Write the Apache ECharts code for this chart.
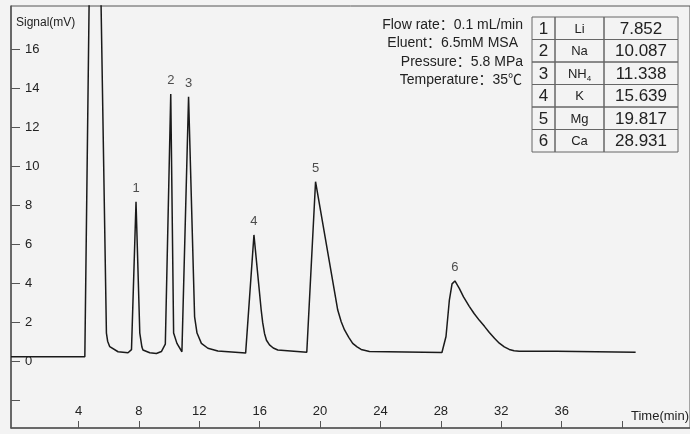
<!DOCTYPE html>
<html>
<head>
<meta charset="utf-8">
<title>Chromatogram</title>
<script src="https://cdn.jsdelivr.net/npm/echarts@6/dist/echarts.min.js"></script>
<style>
  html, body { margin: 0; padding: 0; background: #f3f3f3; }
  #chart { width: 690px; height: 434px; }
</style>
</head>
<body>
<div id="chart"></div>
<script>
// chromatogram trace (min, mV)
const timeMin = [-0.47, 4.42, 5.04, 5.85, 5.93, 6.07, 6.62, 7.28, 7.51, 7.81, 8.06, 8.2, 8.27, 8.72, 9.16, 9.49, 9.75,
  10.11, 10.3, 10.52, 10.85, 11.29, 11.69, 11.85, 12.14, 12.57, 13.23, 15.07, 15.62, 16.1, 16.2, 16.32, 16.45, 16.65,
  16.9, 17.2, 19.12, 19.7, 21.17, 21.4, 21.62, 21.9, 22.16, 22.45, 22.72, 23.27, 28.07, 28.34, 28.56, 28.74, 28.93,
  29.22, 29.5, 29.88, 30.2, 30.55, 30.9, 31.21, 31.55, 31.87, 32.2, 32.53, 32.85, 33.19, 35.68, 35.7, 40.9];
const signalMv = [0.26, 0.26, 39.9, 1.47, 1.05, 0.77, 0.51, 0.46, 0.62, 8.2, 1.47, 0.75, 0.6, 0.46, 0.42, 0.52, 0.9,
  13.73, 1.47, 0.94, 0.51, 13.59, 2.3, 1.47, 0.94, 0.69, 0.55, 0.44, 6.5, 2.65, 2.0, 1.45, 1.1, 0.86,
  0.7, 0.6, 0.48, 9.23, 2.65, 2.05, 1.63, 1.25, 0.94, 0.76, 0.63, 0.52, 0.47, 1.29, 3.14, 3.99, 4.14,
  3.76, 3.32, 2.84, 2.47, 2.12, 1.8, 1.5, 1.2, 0.95, 0.76, 0.63, 0.56, 0.53, 0.53, 0.48, 0.48];

// peak table
const peakNo = ['1', '2', '3', '4', '5', '6'];
const peakIon = ['Li', 'Na', 'NH{sub|4}', 'K', 'Mg', 'Ca'];
const peakRt = ['7.852', '10.087', '11.338', '15.639', '19.817', '28.931'];
const peakTopTime = [7.81, 10.11, 11.29, 15.62, 19.7, 28.93];
const peakTopMv = [8.2, 13.73, 13.59, 6.5, 9.23, 4.14];

// axis ticks
const xTicks = [4, 8, 12, 16, 20, 24, 28, 32, 36, 40];
const xLabels = [4, 8, 12, 16, 20, 24, 28, 32, 36];
const yTicks = [-2, 0, 2, 4, 6, 8, 10, 12, 14, 16];
const yLabels = [0, 2, 4, 6, 8, 10, 12, 14, 16];

const conditions = ['Flow rate：0.1 mL/min', 'Eluent：6.5mM MSA', 'Pressure：5.8 MPa', 'Temperature：35℃'];

const font = '"Liberation Sans", "Noto Sans CJK SC", Arial, sans-serif';
const axisColor = '#555';

var chartDom = document.getElementById('chart');
var myChart = echarts.init(chartDom);

// table cells
var table = [];
var tTop = 17, rowH = 22.5;
var colX = [532, 555, 604, 678];
peakNo.forEach(function (n, i) {
  var y = tTop + i * rowH;
  var cells = [n, peakIon[i], peakRt[i]];
  for (var c = 0; c < 3; c++) {
    table.push({
      type: 'rect',
      shape: { x: colX[c], y: y, width: colX[c + 1] - colX[c], height: rowH },
      style: { fill: 'transparent', stroke: '#666', lineWidth: 1 }
    });
    table.push({
      type: 'text',
      x: (colX[c] + colX[c + 1]) / 2,
      y: y + rowH / 2 + 1,
      style: {
        text: cells[c],
        align: 'center',
        verticalAlign: 'middle',
        fontFamily: font,
        fontSize: c === 1 ? 13 : 17,
        fill: '#222',
        rich: { sub: { fontSize: 8, padding: [10, 0, 0, 0], fontFamily: font, fill: '#222' } }
      }
    });
  }
});

var condEnds = [523, 518, 523, 522];
var condText = conditions.map(function (t, i) {
  return {
    type: 'text',
    x: condEnds[i],
    y: 25 + i * 18.4,
    style: { text: t, align: 'right', verticalAlign: 'middle', fontFamily: font, fontSize: 14, fill: '#222' }
  };
});

var option = {
  backgroundColor: '#f3f3f3',
  animation: false,
  grid: {
    left: 11, right: -1, top: 6, bottom: 6,
    show: true, borderColor: axisColor, borderWidth: 1
  },
  xAxis: {
    type: 'value',
    min: -0.47,
    max: 44.5,
    splitLine: { show: false },
    axisLine: { show: true, onZero: false, lineStyle: { color: axisColor, width: 1.5 } },
    axisTick: { show: true, inside: true, length: 7, customValues: xTicks, lineStyle: { color: axisColor } },
    axisLabel: { inside: true, margin: 10, customValues: xLabels, fontFamily: font, fontSize: 13, color: '#222' }
  },
  yAxis: {
    type: 'value',
    min: -3.4,
    max: 18.24,
    splitLine: { show: false },
    axisLine: { show: true, onZero: false, lineStyle: { color: axisColor, width: 1.5 } },
    axisTick: { show: true, inside: true, length: 9, customValues: yTicks, lineStyle: { color: axisColor } },
    axisLabel: { inside: true, margin: 14, customValues: yLabels, fontFamily: font, fontSize: 13, color: '#222' }
  },
  series: [
    {
      type: 'line',
      data: timeMin.map(function (t, i) { return [t, signalMv[i]]; }),
      showSymbol: false,
      clip: true,
      lineStyle: { color: '#1a1a1a', width: 1.5 }
    },
    {
      type: 'scatter',
      data: peakTopTime.map(function (t, i) { return [t, peakTopMv[i]]; }),
      symbolSize: 0,
      label: {
        show: true,
        position: 'top',
        distance: 7,
        formatter: function (p) { return peakNo[p.dataIndex]; },
        fontFamily: font,
        fontSize: 13,
        color: '#222'
      }
    }
  ],
  graphic: [
    { type: 'text', x: 16, y: 23, style: { text: 'Signal(mV)', verticalAlign: 'middle', fontFamily: font, fontSize: 12, fill: '#222' } },
    { type: 'text', x: 631, y: 416, style: { text: 'Time(min)', verticalAlign: 'middle', fontFamily: font, fontSize: 13, fill: '#222' } }
  ].concat(condText, table)
};
myChart.setOption(option);
</script>
</body>
</html>
